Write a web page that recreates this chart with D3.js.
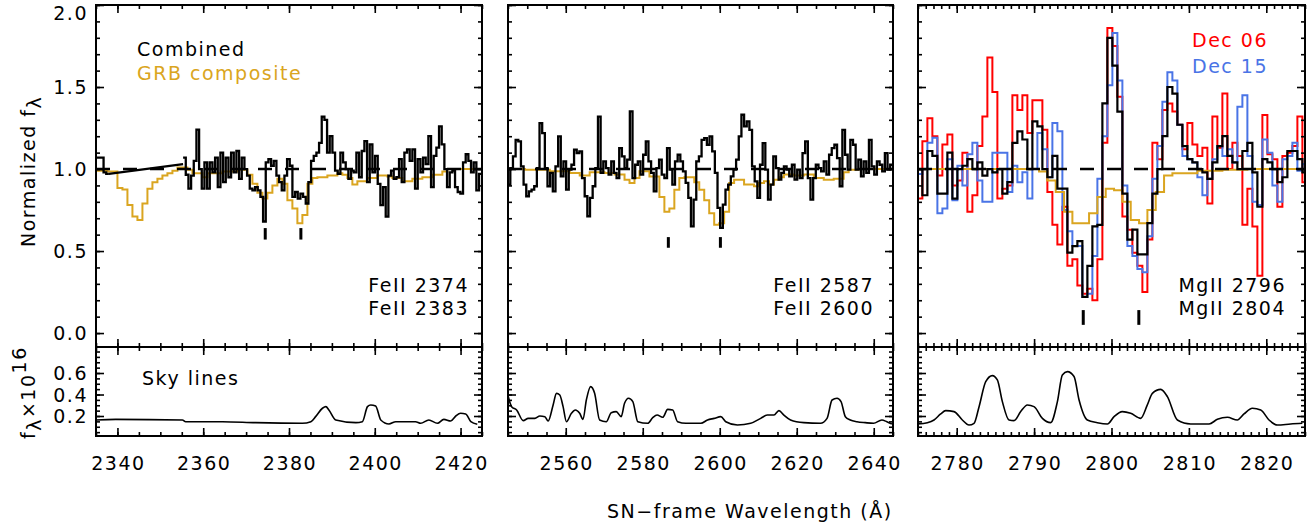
<!DOCTYPE html>
<html>
<head>
<meta charset="utf-8">
<script src="https://cdnjs.cloudflare.com/ajax/libs/d3/7.8.5/d3.min.js"></script>
<style>
body { margin: 0; background: #fff; }
text { font-family: "DejaVu Sans", sans-serif; font-size: 19px; letter-spacing: 1.5px; }
</style>
</head>
<body>
<div id="chart"></div>
<script>
// ---- data (normalized flux, binned) ----
// panel 1 : FeII 2374/2383
var p1BlackLeftStart = 2334.9, p1BlackBin = 0.6216;
var p1BlackLeft = [1.07, 1.07, 1.07, 0.98, 0.97];
var p1BlackGap = [[2338.0, 0.97], [2355.31, 1.03]];
var p1BlackRightStart = 2355.31;
var p1BlackRight = [1.07,
  0.965,0.88,0.96,1.05,1.24,1.0,0.88,1.04,0.88,1.04,
  0.98,1.07,0.89,1.10,0.92,1.07,0.95,1.10,0.98,1.11,
  0.94,1.07,1.0,0.96,0.88,0.87,0.89,0.87,0.83,0.68,
  1.04,1.06,1.02,1.05,0.96,0.92,0.87,0.96,1.06,1.02,
  0.83,0.86,0.82,0.85,0.83,0.79,0.92,1.05,1.08,1.10,
  1.16,1.32,1.30,1.10,1.20,1.10,0.99,0.97,1.10,1.04,
  1.0,0.94,0.99,0.98,1.10,0.95,1.11,1.17,0.92,1.15,
  0.98,1.08,0.91,0.78,0.89,0.71,0.96,0.99,0.94,0.95,
  1.06,0.92,1.10,1.12,1.05,1.12,0.88,1.06,0.98,1.07,
  1.03,1.20,0.89,1.08,1.13,1.26,1.15,1.0,0.89,0.98,
  0.99,0.89,0.86,0.85,1.04,1.09,1.05,0.98,1.04,0.87,
  0.97];
var p1GoldStart = 2334.17, p1GoldBin = 1.1655;
var p1Gold = [0.99,0.99,0.99,0.985,0.985,0.885,0.875,0.78,0.71,0.69,
  0.79,0.88,0.92,0.94,0.96,0.975,0.99,1.01,1.01,0.995,
  0.975,0.975,0.95,0.975,0.975,0.975,0.985,0.985,0.985,0.995,
  0.995,0.965,0.91,0.855,0.82,0.855,0.9,0.94,0.91,0.81,
  0.76,0.67,0.72,0.91,0.945,0.95,0.95,0.96,0.96,0.975,
  0.965,0.945,0.905,0.925,0.925,0.945,0.945,0.96,0.96,0.955,
  0.945,0.945,0.925,0.925,0.94,0.94,0.95,0.95,0.965,0.965,
  0.985,1.0,1.0,1.0,1.0,1.0,1.0,1.0];

// panel 2 : FeII 2587/2600
var p2BlackStart = 2544.22, p2BlackBin = 0.69;
var p2Black = [1.006,0.905,1.006,1.077,1.178,1.168,1.016,0.905,0.834,0.864,
  0.874,0.895,1.006,1.28,1.219,1.006,0.895,0.976,0.864,1.016,
  1.199,0.955,1.047,0.874,0.996,1.026,1.118,1.097,1.108,0.945,
  0.834,0.712,0.824,0.895,1.006,1.32,0.976,
  1.047,1.006,0.966,1.047,0.976,0.945,1.128,1.077,1.006,1.057,
  1.351,0.945,1.026,1.047,0.966,1.087,1.168,1.047,0.976,0.864,
  1.006,1.057,0.966,0.945,1.128,0.996,0.905,1.047,1.087,1.047,
  0.986,0.915,0.824,0.651,0.813,1.047,1.077,
  1.178,1.189,1.148,1.199,1.108,0.976,0.763,0.641,0.783,0.874,
  0.905,0.955,0.996,1.057,1.199,1.331,1.26,1.29,1.239,1.016,
  0.925,0.824,1.026,1.158,0.996,0.813,0.905,1.077,1.006,0.935,
  0.976,1.016,0.996,0.955,1.026,0.935,0.996,0.945,1.097,1.168,
  0.945,0.813,0.945,1.026,1.006,0.986,1.047,0.966,1.087,1.128,
  1.148,1.067,0.895,1.239,1.087,0.996,1.178,1.148,0.996,1.057,
  0.955,1.047,0.976,1.178,1.016,0.966,1.047,1.026,0.986,1.097,
  0.996,1.026];
var p2GoldStart = 2544.22, p2GoldBin = 1.2937;
var p2Gold = [1.0,1.0,1.0,1.0,0.996,0.996,0.996,0.996,0.996,0.986,
  0.986,0.986,0.986,0.976,0.976,0.96,0.96,0.98,0.98,0.98,
  0.976,0.976,0.966,0.966,0.935,0.915,0.945,0.986,0.986,0.955,
  0.955,0.83,0.74,0.76,0.874,0.945,0.95,0.95,0.92,0.874,
  0.81,0.73,0.66,0.67,0.74,0.915,0.935,0.935,0.905,0.905,
  0.895,0.915,0.925,0.905,0.935,0.95,0.966,0.966,0.96,0.96,
  0.966,0.966,0.945,0.945,0.935,0.935,0.94,0.94,0.98,0.996,
  0.996,1.0,1.0,1.0,1.0,1.0,1.0,1.0,1.0];

// panel 3 : MgII 2796/2804
var p3Start = 2774.92, p3Bin = 0.646;
var p3Black = [1.0,0.84,1.11,1.08,0.85,0.85,1.1,0.82,1.0,1.02,
  1.06,1.0,1.04,0.96,1.0,0.98,1.0,0.85,0.92,1.16,
  1.23,1.18,1.0,1.29,1.26,1.0,0.95,1.08,0.88,0.88,
  0.49,0.53,0.56,0.22,0.41,0.65,0.66,1.4,1.8,1.63,
  1.35,0.85,0.57,0.63,0.48,0.48,0.67,0.85,1.0,1.2,
  1.5,1.46,1.27,1.14,1.06,1.04,1.0,0.98,0.94,1.04,
  1.14,1.2,1.08,1.04,1.0,1.11,1.16,0.98,0.77,1.06,
  1.04,1.0,0.92,0.95,1.11,1.11,1.06,0.98];
var p3Dec06 = [0.82,1.17,1.31,1.2,0.96,1.15,1.21,0.9,0.93,1.1,
  0.74,0.84,1.14,1.32,1.68,1.47,0.82,0.88,0.9,1.45,
  1.36,1.45,1.22,1.42,1.42,1.24,0.86,0.66,0.54,0.77,
  0.41,0.45,0.29,0.24,0.27,0.2,0.45,1.16,1.86,1.75,
  1.44,0.71,0.63,0.49,0.41,0.25,0.57,1.16,1.06,1.36,
  1.4,1.35,1.27,1.12,1.28,1.15,1.08,1.13,0.79,1.32,
  1.13,1.46,1.0,1.16,1.08,0.66,0.88,0.65,0.35,1.33,
  1.09,1.06,0.77,1.08,1.1,1.14,1.32,0.92];
var p3Dec15 = [0.97,1.0,1.16,1.19,0.73,0.76,1.06,0.81,1.02,0.9,
  1.09,1.16,0.93,0.8,0.8,1.1,1.1,1.1,0.86,1.02,
  0.92,0.98,0.82,1.0,1.22,1.12,0.95,1.28,1.23,0.75,
  0.62,0.53,0.53,0.22,0.24,0.47,0.94,1.2,1.51,1.83,
  1.54,0.9,0.53,0.47,0.39,0.37,0.59,0.94,1.14,1.41,
  1.59,1.54,1.27,1.08,1.06,1.04,0.95,0.84,0.94,1.06,
  1.14,1.08,1.12,1.04,1.38,1.45,1.08,0.8,0.78,1.18,
  1.1,0.9,0.8,1.06,1.08,1.16,0.99,1.03];
var p3GoldStart = 2774.49, p3GoldBin = 1.0767;
var p3Gold = [1,1,1,1,1,1,1,1,1,1,1,1,1,1,1,
  0.985,0.93,0.86,0.74,0.67,0.67,0.73,0.83,0.88,0.87,
  0.8,0.69,0.67,0.75,0.86,0.96,0.975,0.975,0.975,
  0.99,0.99,0.99,0.995,0.995,0.995,1,1,1,1,1,1,1,1];

// sky spectra (f_lambda x 1e16)
var sky1Wave = [2334.95,2339.6,2355.15,2355.9,2364.5,2372.2,2383.1,2385.1,2386.2,2387.8,
  2388.6,2389.3,2390.9,2395.6,2397.1,2398.3,2399.05,2400.2,2401.4,2403.3,
  2404.9,2409.5,2410.7,2412.6,2414.6,2416.1,2417.7,2418.9,2420.0,2421.2,2422.4,2423.9];
var sky1Flux = [0.163,0.169,0.163,0.147,0.147,0.138,0.132,0.147,0.194,0.272,
  0.287,0.256,0.163,0.138,0.147,0.287,0.303,0.293,0.163,0.126,
  0.147,0.147,0.132,0.163,0.132,0.169,0.153,0.2,0.225,0.219,0.147,0.123];
var sky2Wave = [2545.08,2545.94,2547.24,2548.96,2550.25,2551.98,2553.27,2554.57,2555.43,2556.72,
  2557.59,2558.45,2559.31,2560.17,2561.47,2562.5,2563.62,2564.48,2565.35,2566.47,
  2567.5,2568.8,2570.52,2571.82,2573.11,2574.4,2575.27,2576.3,2577.42,2578.72,
  2581.3,2582.6,2583.72,2585.19,2586.48,2587.77,2589.06,2591.22,2595.1,2596.83,
  2598.55,2600.28,2601.57,2604.59,2608.04,2610.63,2612.35,2614.08,2615.37,2616.66,
  2618.39,2621.84,2626.15,2627.87,2629.17,2630.46,2631.5,2632.62,2633.91,2635.64,
  2637.79,2639.95,2642.1,2643.4,2644.7];
var sky2Flux = [0.38,0.287,0.256,0.157,0.178,0.178,0.2,0.194,0.153,0.303,
  0.411,0.395,0.287,0.147,0.225,0.256,0.225,0.169,0.349,0.473,
  0.411,0.163,0.147,0.231,0.241,0.194,0.318,0.365,0.334,0.147,
  0.132,0.184,0.209,0.188,0.262,0.256,0.147,0.132,0.132,0.163,
  0.178,0.194,0.147,0.116,0.132,0.178,0.209,0.209,0.25,0.209,
  0.163,0.138,0.132,0.178,0.349,0.365,0.334,0.194,0.163,0.147,
  0.138,0.132,0.163,0.147,0.126];
var sky3Wave = [2774.92,2776.21,2777.07,2777.93,2778.58,2779.66,2780.73,2781.59,2782.24,2782.89,
  2783.75,2784.61,2785.25,2785.9,2786.76,2787.41,2788.27,2789.13,2789.99,2791.07,
  2792.14,2793.01,2793.65,2794.3,2795.16,2795.81,2796.88,2798.17,2799.47,2800.33,
  2801.4,2802.48,2803.77,2804.63,2805.28,2806.36,2807.22,2808.51,2810.23,2812.6,
  2813.68,2814.97,2816.26,2817.12,2818.2,2819.28,2820.35,2821.43,2823.15,2824.66];
var sky3Flux = [0.126,0.138,0.163,0.219,0.25,0.241,0.163,0.116,0.132,0.287,
  0.52,0.576,0.536,0.334,0.163,0.157,0.241,0.303,0.287,0.178,
  0.138,0.334,0.582,0.613,0.567,0.349,0.163,0.138,0.126,0.194,
  0.241,0.225,0.178,0.303,0.411,0.448,0.38,0.163,0.126,0.126,
  0.169,0.188,0.163,0.219,0.272,0.256,0.163,0.116,0.126,0.132];

// absorption line positions and marker extents (flux units)
var lineWaves = [[2374.46, 2382.77], [2586.65, 2600.17], [2796.35, 2803.53]];
var markerLevels = [[0.57, 0.64], [0.52, 0.585], [0.05, 0.14]];
var lineLabels = [["FeII 2374", "FeII 2383"], ["FeII 2587", "FeII 2600"], ["MgII 2796", "MgII 2804"]];
var xDomains = [[2335, 2425], [2545, 2645], [2775, 2825]];
var xMajor = [[2340, 2360, 2380, 2400, 2420], [2560, 2580, 2600, 2620, 2640], [2780, 2790, 2800, 2810, 2820]];
var xMinorStep = [5, 5, 1];
var yTopTicks = [0.0, 0.5, 1.0, 1.5, 2.0];
var yBotTicks = [0.2, 0.4, 0.6];

// ---- layout ----
var W = 1313, H = 529;
var topY0 = 5, midY = 347, botY = 436;
var pxLeft = [96, 508, 918], pxRight = [482, 893, 1305];
var GOLD = "#DAA520", RED = "#ff0000", BLUE = "#4a74e6";

var svg = d3.select("#chart").append("svg")
  .attr("width", W).attr("height", H);

var yTop = d3.scaleLinear().domain([-0.085, 2.0]).range([midY, topY0]);
var yBot = d3.scaleLinear().domain([0.014, 0.842]).range([botY, midY]);

function steps(start, w, vals) {
  var pts = vals.map(function(v, i) { return [start + i * w, v]; });
  pts.push([start + vals.length * w, vals[vals.length - 1]]);
  return pts;
}

function tickAxis(g, fn, scale, vals, size, tr) {
  g.append("g").attr("transform", tr)
    .call(fn(scale).tickValues(vals).tickSize(size).tickFormat(""))
    .call(function(a) { a.select(".domain").remove(); a.selectAll("line").attr("stroke", "#000").attr("stroke-width", 1.6); });
}

var defs = svg.append("defs");

xDomains.forEach(function(dom, p) {
  var x = d3.scaleLinear().domain(dom).range([pxLeft[p], pxRight[p]]);
  var g = svg.append("g");

  defs.append("clipPath").attr("id", "clipT" + p).append("rect")
    .attr("x", pxLeft[p]).attr("y", topY0).attr("width", pxRight[p] - pxLeft[p]).attr("height", midY - topY0);
  defs.append("clipPath").attr("id", "clipB" + p).append("rect")
    .attr("x", pxLeft[p]).attr("y", midY).attr("width", pxRight[p] - pxLeft[p]).attr("height", botY - midY);

  var line = d3.line().x(function(d) { return x(d[0]); }).y(function(d) { return yTop(d[1]); }).curve(d3.curveStepAfter);
  var straight = d3.line().x(function(d) { return x(d[0]); }).y(function(d) { return yTop(d[1]); });
  var top = g.append("g").attr("clip-path", "url(#clipT" + p + ")");

  function draw(pts, col, w, fnc) {
    top.append("path").attr("d", (fnc || line)(pts)).attr("fill", "none")
      .attr("stroke", col).attr("stroke-width", w).attr("stroke-linejoin", "miter");
  }

  if (p === 2) {
    draw(steps(p3Start, p3Bin, p3Dec06), RED, 2);
    draw(steps(p3Start, p3Bin, p3Dec15), BLUE, 2);
  }
  if (p === 0) draw(steps(p1GoldStart, p1GoldBin, p1Gold), GOLD, 2);
  if (p === 1) draw(steps(p2GoldStart, p2GoldBin, p2Gold), GOLD, 2);
  if (p === 2) draw(steps(p3GoldStart, p3GoldBin, p3Gold), GOLD, 2);

  // continuum level
  top.append("line").attr("x1", pxLeft[p]).attr("x2", pxRight[p])
    .attr("y1", yTop(1)).attr("y2", yTop(1))
    .attr("stroke", "#000").attr("stroke-width", 2.4).attr("stroke-dasharray", "14,13");

  if (p === 0) {
    draw(steps(p1BlackLeftStart, p1BlackBin, p1BlackLeft), "#000", 2.3);
    draw(p1BlackGap, "#000", 2.3, straight);
    draw(steps(p1BlackRightStart, p1BlackBin, p1BlackRight), "#000", 2.3);
  }
  if (p === 1) draw(steps(p2BlackStart, p2BlackBin, p2Black), "#000", 2.3);
  if (p === 2) draw(steps(p3Start, p3Bin, p3Black), "#000", 2.2);

  // line markers
  lineWaves[p].forEach(function(lw) {
    g.append("line").attr("x1", x(lw)).attr("x2", x(lw))
      .attr("y1", yTop(markerLevels[p][0])).attr("y2", yTop(markerLevels[p][1]))
      .attr("stroke", "#000").attr("stroke-width", 3);
  });

  // line labels
  lineLabels[p].forEach(function(t, i) {
    g.append("text").attr("x", pxRight[p] - (p === 0 ? 13 : 19)).attr("y", 292 + i * 23)
      .attr("text-anchor", "end").text(t);
  });

  // sky panel
  var skyW = [sky1Wave, sky2Wave, sky3Wave][p], skyF = [sky1Flux, sky2Flux, sky3Flux][p];
  var skyLine = d3.line().x(function(d) { return x(d[0]); }).y(function(d) { return yBot(d[1]); }).curve(d3.curveMonotoneX);
  g.append("g").attr("clip-path", "url(#clipB" + p + ")").append("path")
    .attr("d", skyLine(skyW.map(function(w, i) { return [w, skyF[i]]; })))
    .attr("fill", "none").attr("stroke", "#000").attr("stroke-width", 1.6);

  // ticks
  var minor = d3.range(dom[0], dom[1] + 0.001, xMinorStep[p]);
  [[topY0, d3.axisTop], [midY, d3.axisBottom], [midY, d3.axisTop], [botY, d3.axisBottom]].forEach(function(a) {
    tickAxis(g, a[1], x, xMajor[p], -8, "translate(0," + a[0] + ")");
    tickAxis(g, a[1], x, minor, -4, "translate(0," + a[0] + ")");
  });
  var yMinTop = d3.range(0, 2.001, 0.1), yMinBot = d3.range(0.05, 0.84, 0.05);
  tickAxis(g, d3.axisLeft, yTop, yTopTicks, -8, "translate(" + pxLeft[p] + ",0)");
  tickAxis(g, d3.axisLeft, yTop, yMinTop, -4, "translate(" + pxLeft[p] + ",0)");
  tickAxis(g, d3.axisRight, yTop, yTopTicks, -8, "translate(" + pxRight[p] + ",0)");
  tickAxis(g, d3.axisRight, yTop, yMinTop, -4, "translate(" + pxRight[p] + ",0)");
  tickAxis(g, d3.axisLeft, yBot, yBotTicks, -8, "translate(" + pxLeft[p] + ",0)");
  tickAxis(g, d3.axisLeft, yBot, yMinBot, -4, "translate(" + pxLeft[p] + ",0)");
  tickAxis(g, d3.axisRight, yBot, yBotTicks, -8, "translate(" + pxRight[p] + ",0)");
  tickAxis(g, d3.axisRight, yBot, yMinBot, -4, "translate(" + pxRight[p] + ",0)");

  // frames
  g.append("rect").attr("x", pxLeft[p]).attr("y", topY0).attr("width", pxRight[p] - pxLeft[p])
    .attr("height", botY - topY0).attr("fill", "none").attr("stroke", "#000").attr("stroke-width", 2);
  g.append("line").attr("x1", pxLeft[p]).attr("x2", pxRight[p]).attr("y1", midY).attr("y2", midY)
    .attr("stroke", "#000").attr("stroke-width", 2);

  // x tick labels
  xMajor[p].forEach(function(v) {
    g.append("text").attr("x", x(v) + 1).attr("y", 470).attr("text-anchor", "middle").text(v);
  });
});

// y tick labels
yTopTicks.forEach(function(v) {
  svg.append("text").attr("x", 88).attr("y", Math.max(yTop(v) + 7, 20))
    .attr("text-anchor", "end").text(v.toFixed(1));
});
yBotTicks.forEach(function(v) {
  svg.append("text").attr("x", 88).attr("y", yBot(v) + 7)
    .attr("text-anchor", "end").text(v.toFixed(1));
});

// axis titles
var yt = svg.append("text").attr("transform", "translate(35,247) rotate(-90)");
yt.append("tspan").text("Normalized f");
yt.append("tspan").attr("dy", 6).text("λ");
var yb = svg.append("text").attr("transform", "translate(35,439) rotate(-90)");
yb.append("tspan").text("f");
yb.append("tspan").attr("dy", 6).text("λ");
yb.append("tspan").attr("dy", -6).text("×10");
yb.append("tspan").attr("dy", -9).text("16");
svg.append("text").attr("x", 607).attr("y", 518).text("SN−frame Wavelength (Å)");

// legends
svg.append("text").attr("x", 137).attr("y", 56).text("Combined");
svg.append("text").attr("x", 137).attr("y", 80).attr("fill", GOLD).text("GRB composite");
svg.append("text").attr("x", 1192).attr("y", 47).attr("fill", RED).text("Dec 06");
svg.append("text").attr("x", 1192).attr("y", 73).attr("fill", BLUE).text("Dec 15");
svg.append("text").attr("x", 142).attr("y", 385).text("Sky lines");
</script>
</body>
</html>
